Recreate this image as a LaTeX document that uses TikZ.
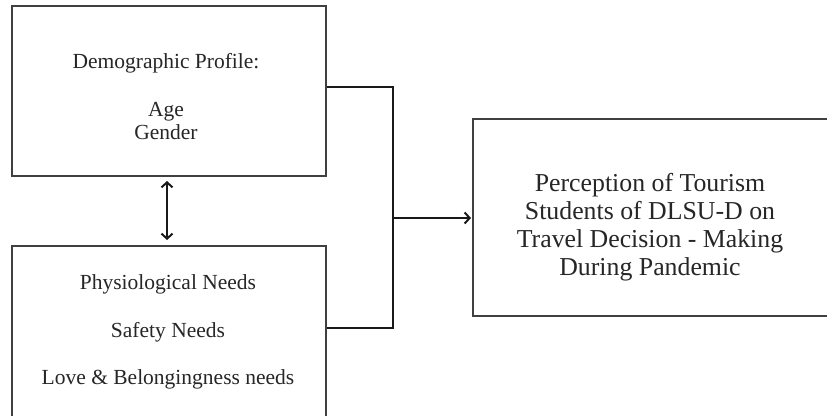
\documentclass[tikz,border=0pt]{standalone}
\usepackage{fontspec}
\setmainfont{Liberation Serif}
\usetikzlibrary{arrows.meta}
\begin{document}
\begin{tikzpicture}[x=1pt,y=-1pt,
  box/.style={draw=black!75,line width=2pt,rectangle,inner sep=0pt},
  conn/.style={draw=black!90,line width=2.1pt},
  txt/.style={anchor=base,inner sep=0pt,text=black!85,font=\fontsize{21.5}{23}\selectfont},
  bigtxt/.style={anchor=base,inner sep=0pt,text=black!85,font=\fontsize{25.8}{28}\selectfont},
  barb/.tip={Straight Barb[length=5pt,width=11pt,line width=2pt]},
  tip/.style={-barb}
]
\useasboundingbox (0,0) rectangle (827,415);
\clip (0,0) rectangle (827,415);
\fill[white] (0,0) rectangle (827,415);
% boxes
\node[box,minimum width=314pt,minimum height=170pt] (top) at (169,91) {};
\node[box,minimum width=314pt,minimum height=172pt] (bot) at (169,332) {};
\node[box,minimum width=360pt,minimum height=197pt] (res) at (653,217.5) {};
% texts
\node[txt] (t1) at (166,68) {Demographic Profile:};
\node[txt] (t2) at (166,116) {Age};
\node[txt] (t3) at (166,139) {Gender};
\node[txt] (b1) at (168,289) {Physiological Needs};
\node[txt] (b2) at (168,337) {Safety Needs};
\node[txt] (b3) at (168,384) {Love \& Belongingness needs};
\node[bigtxt] (r1) at (650,191) {Perception of Tourism};
\node[bigtxt] (r2) at (650,219) {Students of DLSU-D on};
\node[bigtxt] (r3) at (650,247) {Travel Decision - Making};
\node[bigtxt] (r4) at (650,275) {During Pandemic};
% connectors
\coordinate (jt) at (393,87);
\coordinate (jb) at (393,328);
\coordinate (jm) at (393,218);
\draw[conn] ([yshift=4pt]top.east) -- (jt) -- (jb) -- ([yshift=4pt]bot.east);
\draw[conn,tip] (jm) -- ([xshift=-1pt]res.west |- jm);
\draw[conn,barb-barb]
  ([xshift=-2pt,yshift=-4pt]top.south) -- ([xshift=-2pt,yshift=5pt]bot.north);
\end{tikzpicture}
\end{document}
